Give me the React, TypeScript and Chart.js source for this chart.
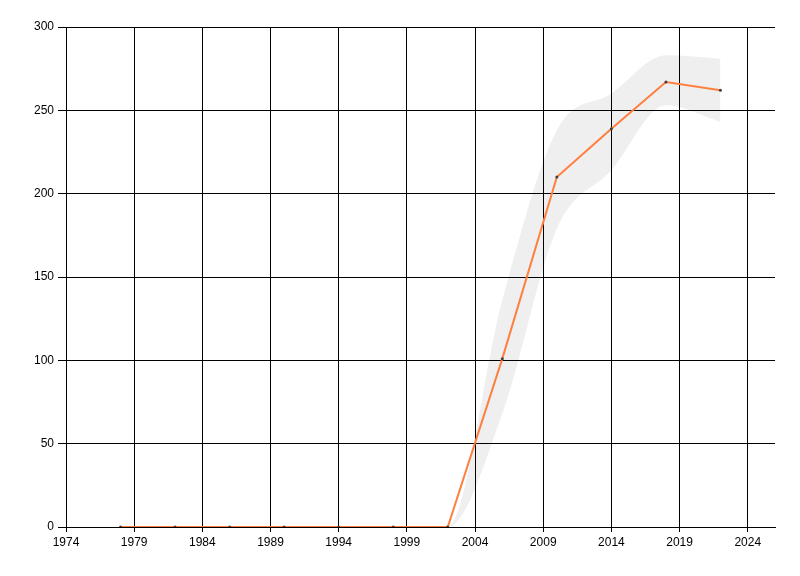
import React, { useEffect, useRef } from 'react';
import { Chart, registerables } from 'chart.js';

Chart.register(...registerables);

const years = [1978, 1982, 1986, 1990, 1994, 1998, 2002, 2006, 2010, 2014, 2018, 2022];
const values = [0, 0, 0, 0, 0, 0, 0, 101, 210, 239, 267, 262];
const upperBand = [0, 0, 0, 0, 0, 0, 0, 136, 238, 260, 283, 281];
const lowerBand = [0, 0, 0, 0, 0, 0, 0, 68, 179, 214, 253, 243];
const xTicks = [1974, 1979, 1984, 1989, 1994, 1999, 2004, 2009, 2014, 2019, 2024];
const yTicks = [0, 50, 100, 150, 200, 250, 300];

const FONT = { family: '"Liberation Sans Narrow", "Liberation Sans", Arial, sans-serif', size: 12 };

const gridOnTop = {
  id: 'gridOnTop',
  beforeDatasetDraw(chart: any, args: any) {
    if (args.index !== 0) return;
    const area = chart.chartArea;
    chart.scales.x.drawGrid(area);
    chart.scales.y.drawGrid(area);
  },
};

export default function App() {
  const ref = useRef<HTMLCanvasElement | null>(null);

  useEffect(() => {
    if (!ref.current) return;
    const pts = (arr: number[]) => years.map((x, i) => ({ x, y: arr[i] }));
    const chart = new Chart(ref.current, {
      type: 'line',
      data: {
        datasets: [
          {
            data: pts(values),
            borderColor: '#ff7f3f',
            borderWidth: 2,
            tension: 0,
            fill: false,
            pointRadius: 1.5,
            pointBorderWidth: 0,
            pointBackgroundColor: '#404040',
          },
          {
            data: pts(lowerBand),
            borderWidth: 0,
            pointRadius: 0,
            fill: false,
            cubicInterpolationMode: 'monotone',
            borderColor: 'rgba(0,0,0,0)',
          },
          {
            data: pts(upperBand),
            borderWidth: 0,
            pointRadius: 0,
            fill: '-1',
            backgroundColor: '#efefef',
            cubicInterpolationMode: 'monotone',
            borderColor: 'rgba(0,0,0,0)',
          },
        ],
      },
      plugins: [gridOnTop],
      options: {
        responsive: false,
        animation: false,
        layout: { padding: { top: 27, right: 25, left: 0, bottom: 0 } },
        plugins: {
          legend: { display: false },
          tooltip: { enabled: false },
        },
        scales: {
          x: {
            type: 'linear',
            min: 1974,
            max: 2026,
            afterBuildTicks: (s: any) => {
              s.ticks = xTicks.map((v) => ({ value: v }));
            },
            afterFit: (s: any) => {
              s.height = 49;
            },
            grid: { color: '#000', lineWidth: 1, tickLength: 5, drawTicks: true },
            border: { color: '#000', width: 1 },
            ticks: {
              color: '#000',
              font: FONT,
              padding: 3,
              maxRotation: 0,
              autoSkip: false,
              callback: (v: any) => String(v),
            },
          },
          y: {
            type: 'linear',
            min: 0,
            max: 300,
            afterBuildTicks: (s: any) => {
              s.ticks = yTicks.map((v) => ({ value: v }));
            },
            afterFit: (s: any) => {
              s.width = 66;
            },
            grid: { color: '#000', lineWidth: 1, tickLength: 8, drawTicks: true },
            border: { color: '#000', width: 1 },
            ticks: { color: '#000', font: FONT, padding: 4, autoSkip: false, callback: (v: any) => String(v) },
          },
        },
      },
    } as any);
    return () => chart.destroy();
  }, []);

  return (
    <div style={{ position: 'fixed', left: 0, top: 0, width: 800, height: 576, background: '#fff' }}>
      <canvas ref={ref} width={800} height={576} style={{ width: 800, height: 576, display: 'block' }} />
    </div>
  );
}
